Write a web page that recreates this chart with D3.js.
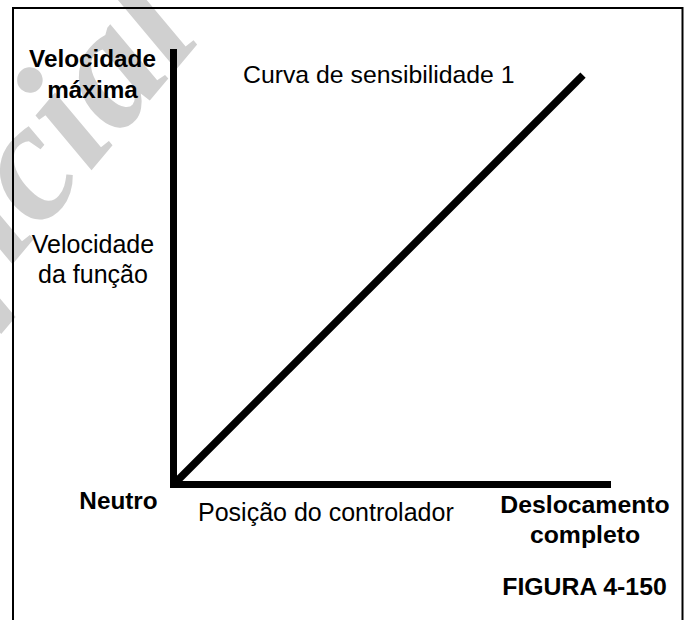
<!DOCTYPE html>
<html>
<head>
<meta charset="utf-8">
<script src="https://cdn.jsdelivr.net/npm/d3@7"></script>
<style>
    body { margin: 0; background: #fff; }
    svg { display: block; }
    text { font-family: "Liberation Sans", Arial, sans-serif; fill: #000; }
</style>
</head>
<body>
<script>
// Sensitivity curve 1: controller position (0 = neutral, 1 = full stroke)
// against function speed (0 = none, 1 = maximum)
var curvePos = [0, 0.936],
    curveSpeed = [0, 0.94];

// axis extents in the same units
var axisPos = [0, 0, 1],
    axisSpeed = [1, 0, 0];

var yLabelsTop = ['Velocidade', 'máxima'],
    yLabelsMid = ['Velocidade', 'da função'],
    xLabelStart = ['Neutro'],
    xLabelMid = ['Posição do controlador'],
    xLabelEnd = ['Deslocamento', 'completo'],
    curveTitle = 'Curva de sensibilidade 1',
    figureLabel = 'FIGURA 4-150',
    watermark = 'Oficial';

var width = 686,
    height = 620;

var svg = d3.select('body').append('svg')
    .attr('width', width)
    .attr('height', height);

svg.append('rect')
    .attr('width', width)
    .attr('height', height)
    .attr('fill', '#fff');

// faint watermark behind everything
svg.append('text')
    .attr('transform', 'translate(204,36) rotate(-50)')
    .attr('text-anchor', 'end')
    .style('font-family', '"Liberation Serif", "Times New Roman", serif')
    .style('font-weight', 'bold')
    .style('font-style', 'italic')
    .style('font-size', '170px')
    .style('fill', '#d0d0d0')
    .text(watermark);

// page frame (open at the bottom)
svg.append('path')
    .attr('d', 'M13,' + height + 'V8H682.5V' + height)
    .attr('fill', 'none')
    .attr('stroke', '#000')
    .attr('stroke-width', 2);

var x = d3.scaleLinear()
    .domain([0, 1])
    .range([173.5, 611]);

var y = d3.scaleLinear()
    .domain([0, 1])
    .range([484.5, 49]);

var line = d3.line()
    .x(function(d) { return x(d[0]); })
    .y(function(d) { return y(d[1]); });

svg.append('path')
    .datum(d3.zip(axisPos, axisSpeed))
    .attr('d', line)
    .attr('fill', 'none')
    .attr('stroke', '#000')
    .attr('stroke-width', 7)
    .attr('stroke-linejoin', 'miter');

svg.append('path')
    .datum(d3.zip(curvePos, curveSpeed))
    .attr('d', line)
    .attr('fill', 'none')
    .attr('stroke', '#000')
    .attr('stroke-width', 7.5);

function addLabel(lines, cx, baseline, opts) {
    opts = opts || {};
    var t = svg.append('text')
        .attr('text-anchor', opts.anchor || 'middle')
        .style('font-size', (opts.size || 25) + 'px')
        .style('font-weight', opts.bold ? 'bold' : 'normal');

    lines.forEach(function(s, i) {
        t.append('tspan')
            .attr('x', cx)
            .attr('y', baseline + i * (opts.lineGap || 30))
            .text(s);
    });
}

addLabel(yLabelsTop, 92.5, 67, {bold: true, size: 24.3, lineGap: 31});
addLabel(yLabelsMid, 93, 253, {lineGap: 30});
addLabel([curveTitle], 243, 83, {anchor: 'start', size: 24.8});
addLabel(xLabelStart, 118.5, 509, {bold: true, size: 24.3});
addLabel(xLabelMid, 198, 521, {anchor: 'start', size: 25});
addLabel(xLabelEnd, 585, 513, {bold: true, size: 24.8, lineGap: 30});
addLabel([figureLabel], 584.5, 595, {bold: true, size: 24.8});
</script>
</body>
</html>
